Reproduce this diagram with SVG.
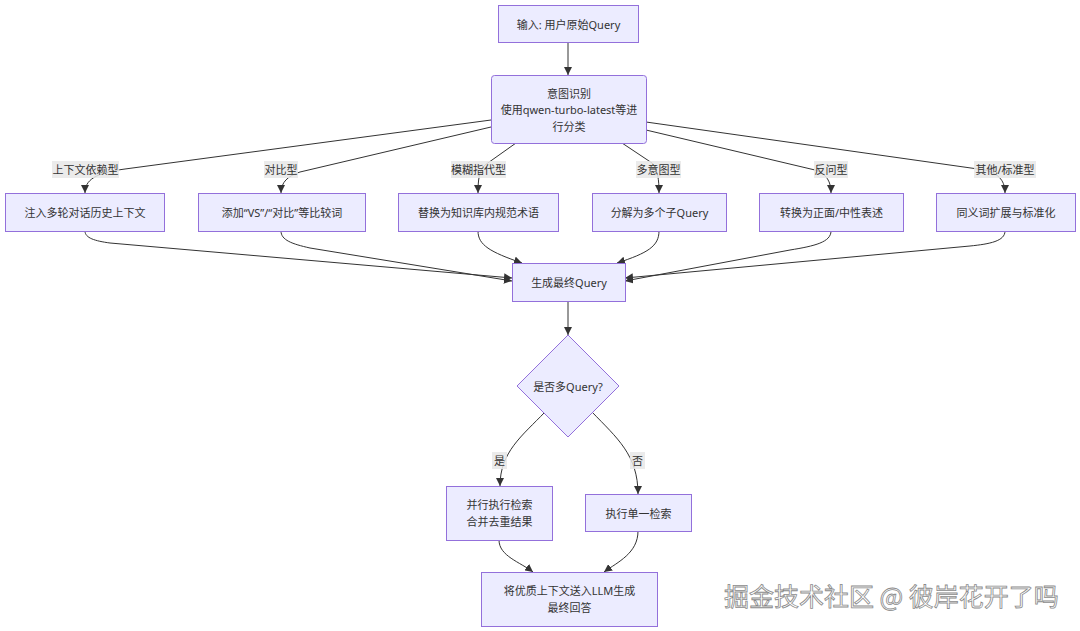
<svg xmlns="http://www.w3.org/2000/svg" width="1080" height="631" viewBox="0 0 1080 631">
<defs>
<marker id="arr" viewBox="0 0 10 10" refX="10" refY="5" markerWidth="8" markerHeight="8" markerUnits="userSpaceOnUse" orient="auto">
<path d="M0,0 L10,5 L0,10 z" fill="#333"/>
</marker>
<style>
.node rect, .node polygon { fill: #ECECFF; stroke: #9370DB; stroke-width: 1; }
.node text { font-family: "Noto Sans", "Noto Sans CJK SC", sans-serif; font-size: 11px; fill: #333; text-anchor: middle; dominant-baseline: central; }
.edges path { fill: none; stroke: #333; stroke-width: 1; marker-end: url(#arr); }
.lbl rect { fill: #e8e8e8; opacity: 0.85; }
.lbl text { font-family: "Noto Sans", "Noto Sans CJK SC", sans-serif; font-size: 11px; fill: #333; text-anchor: middle; dominant-baseline: central; }
.wm { font-family: "Noto Sans CJK SC", sans-serif; font-size: 25px; fill: #fff; stroke: #8a8a8a; stroke-width: 0.8; }
</style>
</defs>
<rect width="1080" height="631" fill="#fff"/>

<g id="connectors" class="edges">
<path d="M568,42 L568,75"/>
<path d="M491,120 L125,169 C95,173 85,180 85,193"/>
<path d="M491,127 L300,172 C288,176 281,182 281,193"/>
<path d="M516,143 L485,165 C479,171 478,180 478,193"/>
<path d="M622,143 L652,163 C658,170 659,180 659,193"/>
<path d="M646,130 L815,170 C827,174 831,182 831,193"/>
<path d="M646,122 L985,170 C1000,174 1005,182 1005,193"/>
<path d="M85,231 C85,238 95,241 110,243 L512,278"/>
<path d="M281,231 C281,240 292,244 310,248 L512,281"/>
<path d="M478,231 C478,245 490,252 522,263"/>
<path d="M659,231 C659,246 648,253 617,263"/>
<path d="M831,231 C831,242 815,246 790,250 L625,281"/>
<path d="M1005,231 C1005,241 990,244 970,246 L625,278"/>
<path d="M568,301 L568,335"/>
<path d="M545,412 C522,436 500,452 500,486"/>
<path d="M592,412 C617,438 638,455 638,494"/>
<path d="M499,540 C499,556 520,562 533,572"/>
<path d="M638,531 C638,553 618,562 604,572"/>
</g>

<g id="edge-labels">
<g class="lbl"><rect x="52" y="161" width="67" height="17"/><text x="85.5" y="169.5">上下文依赖型</text></g>
<g class="lbl"><rect x="264" y="161" width="34" height="17"/><text x="281" y="169.5">对比型</text></g>
<g class="lbl"><rect x="451" y="161" width="55" height="17"/><text x="478.5" y="169.5">模糊指代型</text></g>
<g class="lbl"><rect x="636" y="161" width="45" height="17"/><text x="658.5" y="169.5">多意图型</text></g>
<g class="lbl"><rect x="814" y="161" width="34" height="17"/><text x="831" y="169.5">反问型</text></g>
<g class="lbl"><rect x="974" y="161" width="62" height="17"/><text x="1005" y="169.5">其他/标准型</text></g>
<g class="lbl"><rect x="492" y="452" width="15" height="17"/><text x="499.5" y="460.5">是</text></g>
<g class="lbl"><rect x="630" y="452" width="15" height="17"/><text x="637.5" y="460.5">否</text></g>
</g>

<g id="n-input" class="node"><rect x="498.5" y="5.5" width="140" height="37"/><text x="568.5" y="24">输入: 用户原始Query</text></g>
<g id="n-intent" class="node"><rect x="491.5" y="75.5" width="155" height="68" rx="3"/>
<text x="569" y="93">意图识别</text><text x="569" y="109.5">使用qwen-turbo-latest等进</text><text x="569" y="126">行分类</text></g>
<g id="n-ctx" class="node"><rect x="5.5" y="193.5" width="159" height="38"/><text x="85" y="212.5">注入多轮对话历史上下文</text></g>
<g id="n-cmp" class="node"><rect x="198.5" y="193.5" width="167" height="38"/><text x="282" y="212.5">添加“VS”/“对比”等比较词</text></g>
<g id="n-vague" class="node"><rect x="398.5" y="193.5" width="160" height="38"/><text x="478.5" y="212.5">替换为知识库内规范术语</text></g>
<g id="n-multi" class="node"><rect x="592.5" y="193.5" width="134" height="38"/><text x="659.5" y="212.5">分解为多个子Query</text></g>
<g id="n-rhet" class="node"><rect x="759.5" y="193.5" width="144" height="38"/><text x="831.5" y="212.5">转换为正面/中性表述</text></g>
<g id="n-other" class="node"><rect x="936.5" y="193.5" width="139" height="38"/><text x="1006" y="212.5">同义词扩展与标准化</text></g>
<g id="n-gen" class="node"><rect x="512.5" y="263.5" width="113" height="38"/><text x="569" y="282.5">生成最终Query</text></g>
<g id="n-dec" class="node"><polygon points="568,335 619,386 568,437 517,386"/><text x="568" y="386">是否多Query?</text></g>
<g id="n-par" class="node"><rect x="446.5" y="486.5" width="106" height="54"/><text x="499.5" y="504.5">并行执行检索</text><text x="499.5" y="521.5">合并去重结果</text></g>
<g id="n-single" class="node"><rect x="585.5" y="494.5" width="106" height="37"/><text x="638.5" y="513">执行单一检索</text></g>
<g id="n-final" class="node"><rect x="481.5" y="572.5" width="176" height="54"/><text x="569.5" y="590.5">将优质上下文送入LLM生成</text><text x="569.5" y="607">最终回答</text></g>

<text class="wm" x="724" y="606">掘金技术社区 @ 彼岸花开了吗</text>
</svg>
